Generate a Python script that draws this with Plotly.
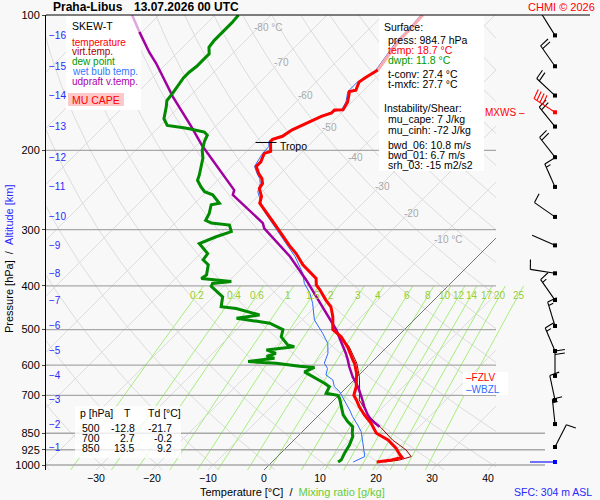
import numpy as np
import plotly.graph_objects as go

# ---- sounding (pressure hPa, temperature degC) ----
temp_p = [984.7, 975, 962, 945, 918, 880, 850, 808, 774, 742, 717, 700, 670, 626, 594, 584,
          546, 519, 500, 468, 445, 430, 408, 398, 385, 375, 359, 339, 325, 295, 276, 271,
          262, 253, 243, 237, 231, 225, 217, 212, 203, 201, 196, 191, 189, 186, 180, 176,
          171, 168, 165, 162.6, 162.5, 156, 148, 147, 141, 138, 132.5]
temp_t = [18.7, 21.0, 22.4, 21.3, 19.7, 16.8, 13.5, 10.8, 8.1, 5.7, 4.0, 2.7, 1.6, -0.7, -2.9, -3.8,
          -7.1, -10.0, -12.8, -15.1, -17.2, -19.3, -22.2, -23.7, -24.9, -26.7, -29.7, -32.9, -35.6, -41.3, -45.2, -46.3,
          -48.4, -49.3, -51.1, -51.4, -52.4, -53.9, -55.6, -55.6, -56.5, -55.7, -56.6, -57.5, -57.5, -56.3, -55.7, -54.7,
          -53.5, -52.9, -51.7, -51.7, -50.2, -50.8, -52.3, -51.4, -52.3, -52.0, -51.1]
temp_top_p = [132.5, 124.8, 113.6, 108, 100]
temp_top_t = [-51.1, -51.7, -52.6, -52.6, -52.9]

virt_p = [984.7, 975, 958, 926, 880, 828, 781, 717, 693, 637, 594, 546, 500]
virt_t = [20.1, 22.4, 23.9, 21.8, 17.6, 13.5, 9.3, 4.5, 3.4, 0.4, -2.5, -6.8, -12.6]

dew_p = [984.7, 975, 942, 903, 865, 850, 822, 801, 774, 742, 711, 700, 693, 670, 658, 621,
         607, 603, 594, 589, 579, 574, 565, 555, 546, 541, 519, 500, 484, 472, 464, 449,
         445, 423, 401, 395, 391, 385, 378, 359, 350, 339, 330, 322, 311, 303, 293, 290,
         286, 276, 264, 262, 251, 247, 241, 233, 227, 208, 200, 191, 185, 182, 179, 178,
         176, 170, 160, 155, 149, 143, 138, 134, 130, 126, 122, 118, 114, 110, 104, 100]
dew_t = [11.8, 12.0, 11.4, 10.8, 9.9, 9.2, 8.1, 6.3, 4.3, 2.5, 0.7, -0.2, -2.6, -3.2, -4.7, -10.3,
         -9.3, -12.2, -16.9, -22.2, -18.1, -19.8, -18.7, -21.0, -16.6, -18.1, -20.7, -21.7, -25.2, -32.0, -28.5, -33.8,
         -36.8, -38.3, -42.2, -42.5, -39.5, -45.4, -45.1, -46.6, -48.4, -48.7, -50.5, -52.0, -50.2, -48.4, -49.9, -53.5,
         -55.0, -55.6, -56.8, -55.6, -58.3, -60.3, -61.8, -63.6, -64.2, -66.6, -68.1, -69.3, -69.9, -71.0, -74.3, -75.5,
         -78.8, -80.6, -82.3, -83.3, -83.6, -84.1, -84.4, -84.4, -84.1, -84.1, -84.1, -85.3, -85.6, -85.6, -85.6, -85.8]

wetb_p = [984.7, 975, 958, 895, 843, 815, 781, 755, 730, 705, 687, 670, 647, 631, 610, 594,
          565, 537, 510, 476, 437, 415, 395, 375, 344, 322, 298, 271, 247, 237, 231, 225,
          217, 203, 196, 191, 186, 180, 176, 171, 168, 165, 162, 156, 148, 141, 133, 125,
          114, 108, 100]
wetb_t = [14.5, 15.0, 15.6, 12.9, 10.5, 8.7, 6.3, 4.6, 2.8, 1.0, -0.5, -2.3, -3.8, -5.9, -6.8, -8.3,
          -9.4, -11.2, -13.9, -17.8, -21.1, -23.4, -26.1, -28.2, -32.6, -36.5, -41.0, -46.6, -50.8, -51.8, -52.8, -54.2,
          -55.9, -56.8, -56.9, -57.8, -56.6, -56.0, -55.0, -53.8, -53.2, -52.0, -50.5, -51.1, -52.6, -52.6, -51.4, -52.0,
          -52.9, -52.9, -53.2]

parcel_p = [822, 794, 774, 742, 705, 670, 637, 605, 584, 565, 501, 445, 388, 344, 298, 290,
            251, 245, 198, 195, 177, 152, 128, 121, 109]
parcel_t = [12.9, 10.2, 8.7, 6.6, 4.3, 1.9, -0.8, -3.2, -4.7, -6.2, -12.1, -18.7, -26.4, -33.5, -43.1, -44.3,
            -54.7, -55.3, -68.1, -69.0, -74.3, -82.9, -91.9, -95.1, -100.5]
parcel_top_p = [109, 100]
parcel_top_t = [-100.5, -104.8]

# altitude marks [km] and their pressure levels
alt_km = list(range(1, 17))
alt_p = [912, 811, 717, 634, 558, 491, 430, 375, 325, 281, 241, 207, 177, 151, 130, 111]

# wind at each km level: direction [deg], speed [kt]
wind_dir = [27, 354, 348, 0, 337, 343, 325, 279, 294, 305, 336, 322, 321, 313, 325, 328]
wind_spd = [10, 15, 10, 20, 15, 15, 15, 10, 3, 10, 15, 20, 20, 20, 20, 5]
sfc_dir, sfc_spd = 270, 3
mxws_p, mxws_dir, mxws_spd = 164.5, 303, 40

mixing_ratio = [0.2, 0.4, 0.6, 1, 1.5, 2, 3, 4, 6, 8, 10, 12, 14, 17, 20, 25]
isobars = [200, 300, 400, 500, 600, 700, 850, 925, 1000]
isotherm_labels = [-80, -70, -60, -50, -40, -30, -20, -10]

table_p = [500, 700, 850]
table_t = [-12.8, 2.7, 13.5]
table_td = [-21.7, -0.2, 9.2]

sfc_press, sfc_temp, sfc_dwpt = 984.7, 18.7, 11.8
t_conv, t_mxfc = 27.4, 27.7
mu_cape, mu_cinh = 7, -72
bwd_06, bwd_01, srh_03 = 10.8, 6.7, -15
sfc_alt = 304
tropo_p, tropo_t = 192, -57.5
fzlv_p, wbzl_p = 638, 678

# ---- skew-T geometry ----
PX_C = 5.6                     # px per degC
PX_DEC = 450                   # px per pressure decade
SKEW = PX_DEC / PX_C
P_BOT = 10 ** (3 + 5 / PX_DEC)


def skew_x(t, p):
    return np.asarray(t, float) + SKEW * np.log10(P_BOT / np.asarray(p, float))


def x_of_px(px):
    return (px - 264) / PX_C


def p_of_py(py):
    return 10 ** (2 + (py - 15) / PX_DEC)


def paper_x(px):
    return (px - 46) / 554


def paper_y(py):
    return (470 - py) / 455


X_LEFT, X_RIGHT, X_GRID = x_of_px(46), x_of_px(600), x_of_px(496)

fig = go.Figure()


def line(x, y, color, width, **kw):
    fig.add_trace(go.Scatter(x=x, y=y, mode="lines", line=dict(color=color, width=width),
                             hoverinfo="skip", showlegend=False, **kw))


# isotherms + dry adiabats
gx, gy = [], []
for t in range(-160, 50, 10):
    if t == 0 or t > X_GRID:
        continue
    p_end = max(100, P_BOT * 10 ** (-(X_GRID - t) / SKEW))
    gx += [t, float(skew_x(t, p_end)), None]
    gy += [P_BOT, p_end, None]
lev = np.logspace(np.log10(P_BOT), 2, 220)
for th in range(-60, 200, 10):
    tt = (th + 273.15) * (lev / 1000) ** 0.2857 - 273.15
    xx = skew_x(tt, lev)
    keep = xx <= X_GRID
    if not keep.any():
        continue
    i = int(np.argmax(keep))
    xs, ps = list(xx[keep]), list(lev[keep])
    if i > 0:
        f = (X_GRID - xx[i - 1]) / (xx[i] - xx[i - 1])
        lp = np.log10(lev[i - 1]) + f * (np.log10(lev[i]) - np.log10(lev[i - 1]))
        xs.insert(0, X_GRID)
        ps.insert(0, 10 ** lp)
    gx += xs + [None]
    gy += ps + [None]
line(gx, gy, "#dcdcdc", 1)

# mixing ratio lines


def t_of_w(w, p):
    e = w / 1000 * p / (0.622 + w / 1000)
    a = np.log(e / 6.112)
    return 243.5 * a / (17.67 - a)


mx, my = [], []
mlev = np.logspace(np.log10(P_BOT), np.log10(400), 30)
for w in mixing_ratio:
    mx += list(skew_x(t_of_w(w, mlev), mlev)) + [None]
    my += list(mlev) + [None]
line(mx, my, "#a6ee7c", 1)

# 0 degC isotherm
p0_end = P_BOT * 10 ** (-X_GRID / SKEW)
line([0, X_GRID], [P_BOT, p0_end], "#777777", 1)

# isobars
bx, by = [], []
for p in isobars:
    xr = x_of_px(545) if p >= 850 else X_GRID
    bx += [X_LEFT, xr, None]
    by += [p, p, None]
line(bx, by, "#a8a8a8", 1.3)


# white boxes under the curves
def box(x0, y0, x1, y1, color):
    xs = [x_of_px(v) for v in (x0, x1, x1, x0, x0)]
    ps = [p_of_py(v) for v in (y0, y0, y1, y1, y0)]
    fig.add_trace(go.Scatter(x=xs, y=ps, mode="lines", fill="toself", fillcolor=color,
                             line=dict(width=0), hoverinfo="skip", showlegend=False))


box(66, 15, 141, 110, "white")
box(68, 93, 124, 106, "#ffc8c8")
box(379, 15, 484, 171, "white")
box(75, 406, 181, 458, "rgba(255,255,255,0.78)")
box(463, 372, 508, 395, "white")

# sounding curves
line(skew_x(wetb_t, wetb_p), wetb_p, "#2f6bff", 1)
line(skew_x(virt_t, virt_p), virt_p, "#990000", 1)
line(skew_x(parcel_top_t, parcel_top_p), parcel_top_p, "#e0a6e0", 2.5)
line(skew_x(parcel_t, parcel_p), parcel_p, "#a000a0", 2.5)
line(skew_x(temp_top_t, temp_top_p), temp_top_p, "#ffaaaa", 3)
line(skew_x(temp_t, temp_p), temp_p, "#ff0000", 3)
line(skew_x(dew_t, dew_p), dew_p, "#008a00", 3)

# tropopause mark
xt = float(skew_x(tropo_t, tropo_p))
line([xt - 14 / PX_C, xt + 7 / PX_C], [tropo_p, tropo_p], "black", 1)


# wind barbs (x2 axis is in pixels)
def barb(p0, wdir, wspd, x0=555.0, staff=25.0):
    a = np.radians(wdir)
    ux, uy = np.sin(a), -np.cos(a)
    tilt = np.radians(8)
    fx = np.cos(tilt) * (-uy) + np.sin(tilt) * ux
    fy = np.cos(tilt) * ux + np.sin(tilt) * uy
    segs = [[(0, 0), (staff * ux, staff * uy)]]
    n10 = int(wspd // 10)
    n5 = int((wspd % 10) >= 5)
    pos = staff
    for _ in range(n10):
        segs.append([(pos * ux, pos * uy), (pos * ux + 10 * fx, pos * uy + 10 * fy)])
        pos -= 3.5
    if n5:
        segs.append([(pos * ux, pos * uy), (pos * ux + 5 * fx, pos * uy + 5 * fy)])
    xs, ps = [], []
    for seg in segs:
        for dx, dy in seg:
            xs.append(x0 + dx)
            ps.append(p0 * 10 ** (dy / PX_DEC))
        xs.append(None)
        ps.append(None)
    return xs, ps


wx, wy = [], []
for p, d, s in zip(alt_p, wind_dir, wind_spd):
    xs, ps = barb(p, d, s)
    wx += xs
    wy += ps
for xs, ps, col, pts in [(wx, wy, "black", alt_p),
                         (*barb(mxws_p, mxws_dir, mxws_spd), "#ff0000", [mxws_p]),
                         (*barb(sfc_press, sfc_dir, sfc_spd), "#0000ff", [sfc_press])]:
    fig.add_trace(go.Scatter(x=xs, y=ps, xaxis="x2", mode="lines", line=dict(color=col, width=1.1),
                             hoverinfo="skip", showlegend=False))
    fig.add_trace(go.Scatter(x=[555] * len(pts), y=pts, xaxis="x2", mode="markers",
                             marker=dict(symbol="square", size=4, color=col),
                             hoverinfo="skip", showlegend=False))

# ---- texts ----
anns = []


def ann(px, py, text, color="black", size=10.5, xanchor="left", **kw):
    anns.append(dict(xref="paper", yref="paper", x=paper_x(px), y=paper_y(py), text=text,
                     showarrow=False, xanchor=xanchor, yanchor="middle",
                     font=dict(color=color, size=size), **kw))


ann(51, 7, "<b>Praha-Libus</b>", size=12)
ann(132, 7, "<b>13.07.2026 00 UTC</b>", size=12)
ann(597, 7, "CHMI © 2026", color="#ff0000", size=11, xanchor="right")

ann(70, 26, "SKEW-T", size=10.5)
for i, (txt, col) in enumerate([("temperature", "#ff0000"), ("virt.temp.", "#aa0000"),
                                ("dew point", "#009900"), ("wet bulb temp.", "#3377ff"),
                                ("udpraft v.temp.", "#aa00aa")]):
    ann(70, 42 + i * 9.9, txt, color=col, size=10)
ann(96, 100, "MU CAPE", color="#ff0000", size=10.5, xanchor="center")

surf = [("Surface:", 382, 27, "black"),
        ("press: %.1f hPa" % sfc_press, 386, 40, "black"),
        ("temp: %.1f °C" % sfc_temp, 386, 50, "#ff0000"),
        ("dwpt: %.1f °C" % sfc_dwpt, 386, 60, "#009900"),
        ("t-conv: %.1f °C" % t_conv, 386, 74, "black"),
        ("t-mxfc: %.1f °C" % t_mxfc, 386, 84, "black"),
        ("Instability/Shear:", 382, 108, "black"),
        ("mu_cape: %d J/kg" % mu_cape, 386, 119, "black"),
        ("mu_cinh: %d J/kg" % mu_cinh, 386, 130, "black"),
        ("bwd_06: %.1f m/s" % bwd_06, 386, 145, "black"),
        ("bwd_01: %.1f m/s" % bwd_01, 386, 155, "black"),
        ("srh_03: %d m2/s2" % srh_03, 386, 165, "black")]
for txt, x, y, col in surf:
    ann(x, y, txt, color=col)

ann(78, 413, "p [hPa]")
ann(127, 413, "T", xanchor="center")
ann(146, 413, "Td [°C]")
for i, (p, t, td) in enumerate(zip(table_p, table_t, table_td)):
    ann(102, 428 + 10 * i, "%d" % p, xanchor="right")
    ann(137, 428 + 10 * i, "%.1f" % t, xanchor="right")
    ann(174, 428 + 10 * i, "%.1f" % td, xanchor="right")

ann(483, 112, "MXWS –", color="#ff0000", size=10)
ann(512, 492, "SFC: %d m ASL" % sfc_alt, color="#2828ff", size=10.5)
ann(292, 492, "Temperature [°C]\u00a0\u00a0/\u00a0\u00a0<span style='color:#66cc33'>Mixing ratio [g/kg]</span>",
    size=11, xanchor="center")
ann(9, 259, "Pressure [hPa]\u00a0\u00a0/\u00a0\u00a0<span style='color:#2828ff'>Altitude [km]</span>",
    size=11, xanchor="center", textangle=-90)

# freezing / wet bulb zero levels
for txt, p, col in [("–FZLV", fzlv_p, "#ff0000"), ("–WBZL", wbzl_p, "#2f6bff")]:
    anns.append(dict(xref="paper", yref="y", x=paper_x(464), y=np.log10(p), text=txt,
                     showarrow=False, xanchor="left", yanchor="middle", font=dict(color=col, size=10)))

# altitude labels
for km, p in zip(alt_km, alt_p):
    anns.append(dict(xref="paper", yref="y", x=paper_x(47), y=np.log10(p), text="\u2212%d" % km,
                     showarrow=False, xanchor="left", yanchor="middle", font=dict(color="#2828ff", size=10)))

# isotherm labels along the upper right
lbl_py = [27, 62.5, 95, 127, 157, 186, 213, 239]
for t, py in zip(isotherm_labels, lbl_py):
    p = p_of_py(py)
    txt = "%d" % t + (" °C" if t in (-80, -10) else "")
    anns.append(dict(xref="x", yref="y", x=float(skew_x(t, p)), y=np.log10(p), text=txt,
                     showarrow=False, xanchor="left", xshift=-7.5, yanchor="middle",
                     font=dict(color="#a8a8a8", size=10)))

# mixing ratio labels
for w in mixing_ratio:
    p = 419
    anns.append(dict(xref="x", yref="y", x=float(skew_x(t_of_w(w, p), p)), y=np.log10(p),
                     text="%g" % w, showarrow=False, xanchor="center", yanchor="middle",
                     font=dict(color="#99cc33", size=10)))

# tropopause label
anns.append(dict(xref="x", yref="y", x=xt + 8 / PX_C, y=np.log10(tropo_p + 3), text="Tropo",
                 showarrow=False, xanchor="left", yanchor="middle", font=dict(size=10.5)))

fig.update_layout(
    width=600, height=500, autosize=False,
    margin=dict(l=46, r=0, t=15, b=30),
    paper_bgcolor="#f8f8f8", plot_bgcolor="#f8f8f8",
    font=dict(family="Liberation Sans, Arial, sans-serif", size=11, color="black"),
    showlegend=False,
    xaxis=dict(range=[X_LEFT, X_RIGHT], showgrid=False, zeroline=False, showline=False,
               tickvals=[-30, -20, -10, 0, 10, 20, 30, 40], ticks="", tickfont=dict(size=10.5),
               automargin=False, fixedrange=True),
    xaxis2=dict(overlaying="x", anchor="y", range=[46, 600], visible=False, fixedrange=True),
    yaxis=dict(type="log", range=[np.log10(P_BOT), 2], showgrid=False, zeroline=False,
               showline=True, linecolor="black", linewidth=1, ticks="outside", ticklen=3,
               tickvals=isobars[::-1] + [100], ticktext=[str(v) for v in isobars[::-1]] + ["100"],
               tickfont=dict(size=11), automargin=False, fixedrange=True),
    annotations=anns,
    shapes=[dict(type="line", xref="paper", yref="paper", x0=0, x1=paper_x(590), y0=1, y1=1,
                 line=dict(color="black", width=1))],
)

fig.write_html("out.html", config={"displayModeBar": False},
               post_script="document.body.style.margin='0';document.body.style.overflow='hidden';")
